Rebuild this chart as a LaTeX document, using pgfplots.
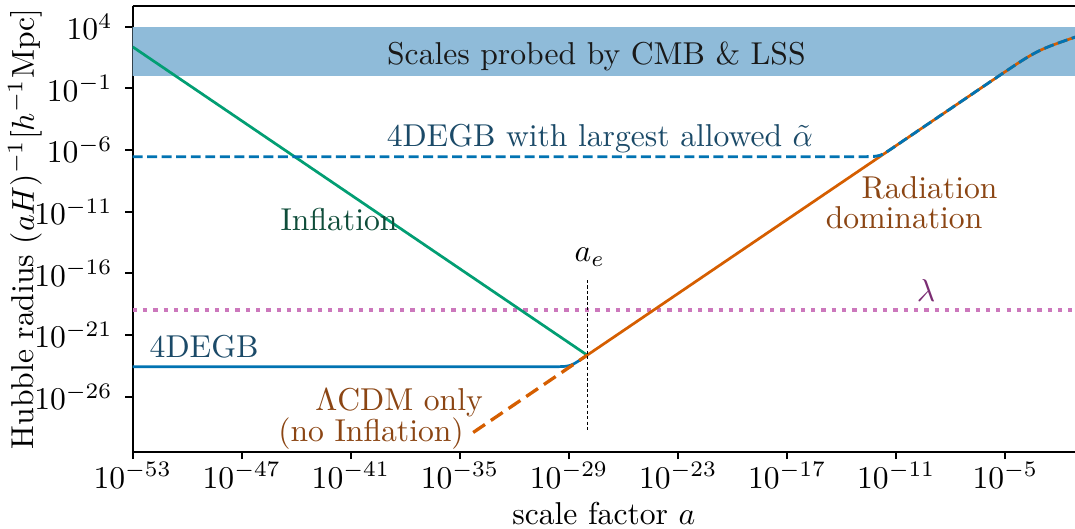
\documentclass[border=0pt]{standalone}
\usepackage{pgfplots}
\pgfplotsset{compat=1.18}
\definecolor{cbblue}{HTML}{0173B2}
\definecolor{cbgreen}{HTML}{029E73}
\definecolor{cborange}{HTML}{D55E00}
\definecolor{cbpink}{HTML}{CC78BC}
\definecolor{bandblue}{HTML}{8FBBD9}
\definecolor{tgreen}{HTML}{0F4D3A}
\definecolor{tblue}{HTML}{1B4A68}
\definecolor{tbrown}{HTML}{8B4513}
\definecolor{tpurple}{HTML}{7B2D73}
\begin{document}
\begin{tikzpicture}
\begin{axis}[
  name=ax,
  scale only axis,
  width=297.9pt, height=140.9pt,
  xmode=log, ymode=log,
  xmin=1e-53, xmax=6.76e-2,
  ymin=3.47e-31, ymax=4.79e5,
  axis x line*=box, axis y line*=left,
  axis line style={-, line width=0.63pt, black},
  xtick={1e-53,1e-47,1e-41,1e-35,1e-29,1e-23,1e-17,1e-11,1e-5},
  ytick={1e4,1e-1,1e-6,1e-11,1e-16,1e-21,1e-26},
  xtick pos=bottom, ytick pos=left,
  xminorticks=false, yminorticks=false,
  tick align=outside,
  major tick length=2.35pt,
  tick style={line width=0.63pt, black},
  xticklabel style={yshift=2.5pt},
  yticklabel style={xshift=-0.5pt},
  xlabel={scale factor $a$},
  ylabel={Hubble radius $(aH)^{-1}[h^{-1}\mathrm{Mpc}]$},
  xlabel style={at={(axis description cs:0.5,-0.1398)}, anchor=center},
  ylabel style={at={(axis description cs:-0.1143,0.5)}, anchor=center},
  clip=true,
]
% band
\addplot[fill=bandblue, draw=none, forget plot] coordinates {(1e-60,1) (1e1,1) (1e1,1e4) (1e-60,1e4)} -- cycle;
% lambda
\addplot[cbpink, line width=1.26pt, dash pattern=on 1.35pt off 1.9pt] coordinates {(1e-53,1e-19) (1e1,1e-19)};
% 4DEGB solid
\addplot[cbblue, line width=0.86pt] coordinates {
(1e-53,2.69e-24) (2.04e-30,2.70e-24) (3.63e-30,2.76e-24) (6.46e-30,2.91e-24)
(1.15e-29,3.42e-24) (2.04e-29,5.01e-24) (3.63e-29,8.53e-24) (1e-28,2.34e-23)};
% inflation
\addplot[cbgreen, line width=0.86pt] coordinates {(1e-53,2.34e2) (1e-28,2.34e-23)};
% LCDM dashed
\addplot[cborange, line width=1.04pt, dash pattern=on 4.5pt off 2.25pt] coordinates {(5.37e-35,1.26e-29) (1e-28,2.34e-23)};
% radiation solid
\addplot[cborange, line width=0.86pt] coordinates {
(1e-28,2.34e-23) (1e-20,2.34e-15) (1e-12,2.34e-7) (1e-8,2.34e-3) (1e-6,0.2339)
(3.162e-6,0.7382) (1e-5,2.320) (3.162e-5,7.198) (5.623e-5,12.53) (1e-4,21.52)
(1.778e-4,36.16) (3.162e-4,58.92) (5.623e-4,92.42) (1e-3,139.2) (1.778e-3,201.9)
(3.162e-3,284.2) (1e-2,533) (3.162e-2,965) (1e-1,1724)};
% 4DEGB largest alpha dashed
\addplot[cbblue, line width=0.9pt, dash pattern=on 3.15pt off 1.44pt] coordinates {
(1e-53,2.88e-7) (2.19e-13,2.90e-7) (3.90e-13,2.96e-7) (6.93e-13,3.12e-7)
(1.233e-12,3.66e-7) (2.19e-12,5.36e-7) (3.90e-12,9.16e-7) (1e-11,2.34e-6)
(1e-8,2.34e-3) (1e-6,0.2339) (3.162e-6,0.7382) (1e-5,2.320) (3.162e-5,7.198)
(5.623e-5,12.53) (1e-4,21.52) (1.778e-4,36.16) (3.162e-4,58.92) (5.623e-4,92.42)
(1e-3,139.2) (1.778e-3,201.9) (3.162e-3,284.2) (1e-2,533) (3.162e-2,965) (1e-1,1724)};
% a_e line
\addplot[black, line width=0.32pt, dash pattern=on 1.0pt off 0.72pt] coordinates {(1e-28,2.88e-17) (1e-28,1.41e-29)};
% labels
\node[anchor=base, text=black!90] at (axis cs:3.2e-28,9.4) {Scales probed by CMB \& LSS};
\node[anchor=base, text=tgreen] at (axis cs:2.24e-42,3.24e-13) {Inflation};
\node[anchor=base, text=tblue] at (axis cs:8.5e-50,1.55e-23) {4DEGB};
\node[anchor=base, text=tblue] at (axis cs:5.0e-28,1.86e-6) {4DEGB with largest allowed $\tilde{\alpha}$};
\node[anchor=base, text=tpurple] at (axis cs:4.4e-10,5.0e-19) {$\lambda$};
\node[anchor=base] at (axis cs:1.4e-28,8.7e-16) {$a_e$};
\node[anchor=base, text=tbrown] at (axis cs:6.8e-10,1.2e-10) {Radiation};
\node[anchor=base, text=tbrown] at (axis cs:2.7e-11,4.5e-13) {domination};
\node[anchor=base, text=tbrown] at (axis cs:4.5e-39,8.1e-28) {$\Lambda$CDM only};
\node[anchor=base, text=tbrown] at (axis cs:1.29e-40,2.2e-30) {(no Inflation)};
\end{axis}
\pgfresetboundingbox
\path[use as bounding box] ([xshift=-41.95pt,yshift=-24.44pt]ax.south west) rectangle ([yshift=1.9pt]ax.north east);
\end{tikzpicture}
\end{document}
